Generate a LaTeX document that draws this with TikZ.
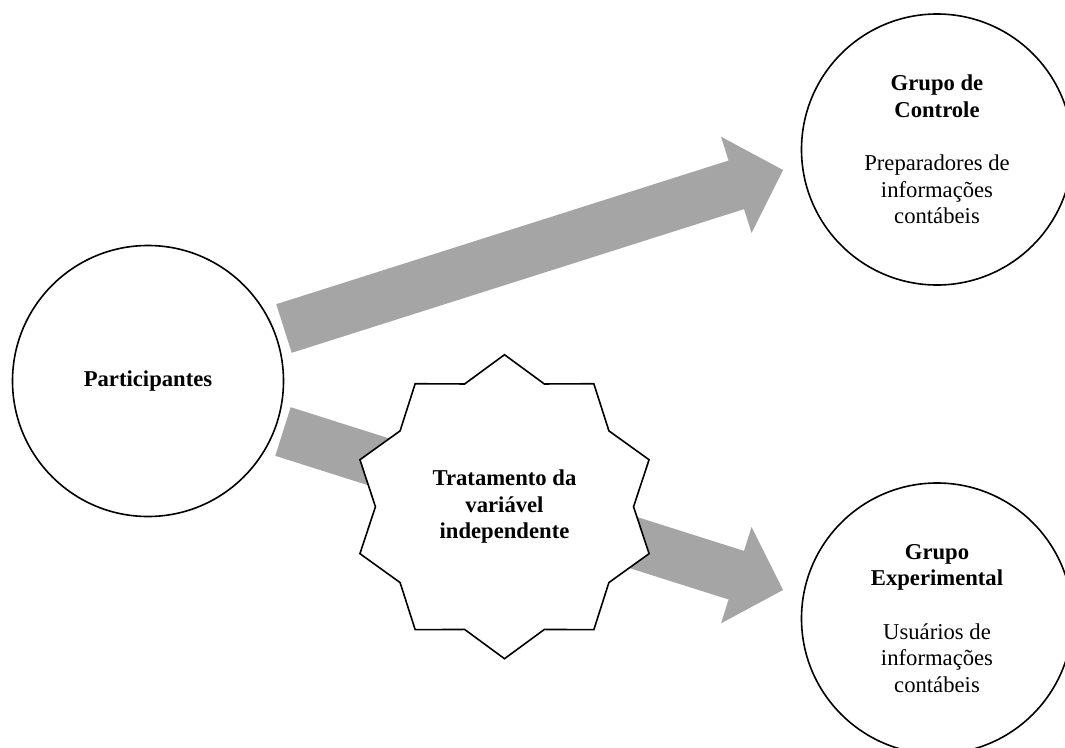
\documentclass[tikz,border=0pt]{standalone}
\usepackage{fontspec}
\setmainfont{Liberation Serif}
\usetikzlibrary{calc,shapes.geometric}
\definecolor{arrowgray}{RGB}{165,165,165}
\tikzset{
  circ/.style={circle, draw=black, line width=1.2pt, fill=white,
    minimum size=203.25pt, inner sep=0pt, align=center,
    font=\fontsize{17}{20}\selectfont},
  starbox/.style={star, star points=10, star point ratio=1.178,
    draw=black, line width=1.2pt, fill=white, minimum size=228pt,
    inner sep=0pt, align=center, font=\fontsize{17}{20}\selectfont\bfseries},
  blockarrow/.style={fill=arrowgray, draw=none}
}
\newcommand\bigarrow[3]{%
  \coordinate (#3) at ($(#2)!36.75pt!(#1)$);
  \fill[blockarrow] ($(#1)!19.125pt!90:(#2)$) -- ($(#3)!19.125pt!90:(#2)$)
    -- ($(#3)!37.875pt!90:(#2)$) -- (#2) -- ($(#3)!37.875pt!-90:(#2)$)
    -- ($(#3)!19.125pt!-90:(#2)$) -- ($(#1)!19.125pt!-90:(#2)$) -- cycle;}
\begin{document}
\begin{tikzpicture}[x=0.75pt,y=-0.75pt]
  \useasboundingbox (0,0) rectangle (1065,747);
  \clip (0,0) rectangle (1065,747);
  \fill[white] (0,0) rectangle (1065,747);
  % arrow end points
  \coordinate (tailA) at (284,328.5);
  \coordinate (tipA) at (783,170);
  \coordinate (tailB) at (283,431.5);
  \coordinate (tipB) at (783,590);
  \bigarrow{tailA}{tipA}{hbA}
  \bigarrow{tailB}{tipB}{hbB}
  % circles
  \node[circ] (part) at (148,381) {\bfseries Participantes};
  \node[circ] (ctrl) at (937,149.5) {{\bfseries Grupo de}\\{\bfseries Controle}\\[20pt]Preparadores de\\informações\\contábeis};
  \node[circ] (exp) at (937,618.5) {{\bfseries Grupo}\\{\bfseries Experimental}\\[20pt]Usuários de\\informações\\contábeis};
  % star
  \node[starbox] (trat) at (504.5,506.7) {Tratamento da\\variável\\independente};
\end{tikzpicture}
\end{document}
